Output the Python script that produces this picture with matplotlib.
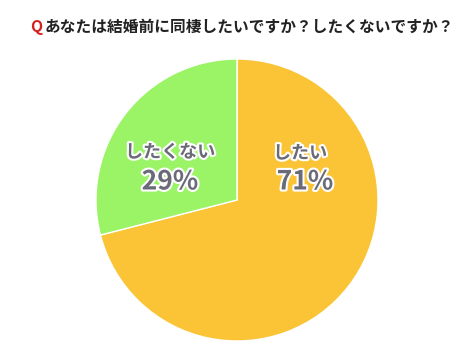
import matplotlib.pyplot as plt
import matplotlib.patheffects as pe

plt.rcParams['font.family'] = ['Noto Sans CJK JP', 'DejaVu Sans']

labels = ["したい", "したくない"]
values = [71, 29]
colors = ["#FBC436", "#9AF466"]
title = "あなたは結婚前に同棲したいですか？したくないですか？"

W, H = 474, 355
fig = plt.figure(figsize=(W / 100, H / 100), dpi=100)
fig.patch.set_facecolor("white")

cx, cy, r = 237, 200, 141
ax = fig.add_axes([(cx - r) / W, (H - cy - r) / H, 2 * r / W, 2 * r / H])
ax.pie(values, colors=colors, startangle=90, counterclock=False,
       wedgeprops=dict(edgecolor="white", linewidth=1))
ax.set_xlim(-1, 1)
ax.set_ylim(-1, 1)
ax.set_aspect("equal")

stroke = [pe.withStroke(linewidth=3, foreground="white")]
txt_color = "#6a6a78"
label_pos = [(300, 153, 305, 182), (170, 152, 170, 182)]
for lab, v, (lx, ly, px, py) in zip(labels, values, label_pos):
    fig.text(lx / W, 1 - ly / H, lab, ha="center", va="center", fontsize=13,
             fontweight="bold", color=txt_color, path_effects=stroke)
    fig.text(px / W, 1 - py / H, f"{v}%", ha="center", va="center", fontsize=19,
             fontweight="bold", color=txt_color, path_effects=stroke)

fig.text(30 / W, 1 - 27 / H, "Q", ha="left", va="center", fontsize=11.3,
         fontweight="bold", color="#d42020")
fig.text(45 / W, 1 - 27 / H, title, ha="left", va="center", fontsize=11.3,
         fontweight="bold", color="#222222")

fig.savefig("out.png", dpi=100, facecolor="white")
